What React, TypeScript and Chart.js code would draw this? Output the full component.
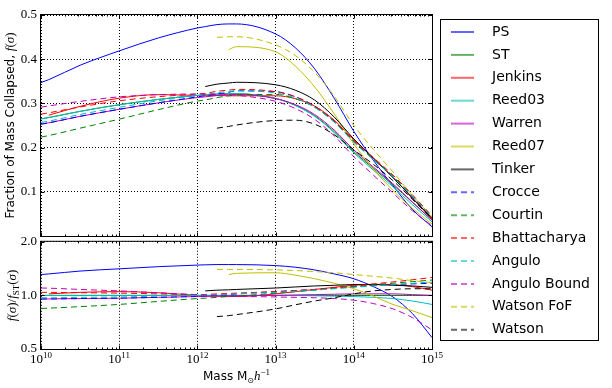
import React, { useEffect, useRef } from 'react';
import { Chart, registerables } from 'chart.js';

Chart.register(...registerables);

const N = null;

// log10 of halo mass (M_sun / h)
const logMass = [10, 10.1, 10.5, 11, 11.5, 12, 12.1, 12.25, 12.4, 12.5, 13, 13.25, 13.5, 13.75, 14, 14.25, 14.5, 14.75, 15];

// Sheth-Tormen f(sigma) (reference for the ratio panel)
const fST = [0.265, 0.268, 0.282, 0.297, 0.309, 0.318, 0.319, 0.321, 0.322, 0.322, 0.311, 0.296, 0.272, 0.236, 0.191, 0.153, 0.116, 0.076, 0.036];

// f(sigma) / f_ST(sigma) for each fit
const ratioPS = [1.31, 1.32, 1.37, 1.41, 1.45, 1.48, 1.485, 1.49, 1.49, 1.49, 1.47, 1.44, 1.39, 1.32, 1.24, 1.12, 0.98, 0.79, 0.58];
const ratioST = [1, 1, 1, 1, 1, 1, 1, 1, 1, 1, 1, 1, 1, 1, 1, 1, 1, 1, 1];
const ratioJenkins = [N, 1.02, 1.04, 1.05, 1.035, 1.0, 0.995, 0.99, 0.985, 0.985, 1.02, 1.05, 1.08, 1.11, 1.14, 1.155, 1.15, 1.12, 1.07];
const ratioReed03 = [1, 1, 1, 1, 1, 1, 1, 1, 1, 1, 1, 0.998, 0.995, 0.99, 0.985, 0.975, 0.96, 0.93, 0.89];
const ratioWarren = [0.955, 0.956, 0.96, 0.965, 0.975, 0.985, 0.987, 0.99, 0.993, 0.995, 1.0, 1.005, 1.01, 1.015, 1.02, 1.02, 1.02, 1.01, 1.0];
const ratioReed07 = [N, N, N, N, N, N, N, N, 1.31, 1.33, 1.34, 1.30, 1.24, 1.17, 1.09, 0.99, 0.89, 0.82, 0.75];
const ratioTinker = [N, N, N, N, N, N, 1.06, 1.07, 1.075, 1.08, 1.10, 1.115, 1.13, 1.14, 1.15, 1.15, 1.14, 1.13, 1.11];
const ratioCrocce = [0.955, 0.955, 0.96, 0.965, 0.975, 0.99, 0.995, 1.0, 1.01, 1.02, 1.05, 1.065, 1.08, 1.10, 1.12, 1.135, 1.15, 1.16, 1.17];
const ratioCourtin = [0.845, 0.848, 0.865, 0.89, 0.925, 0.96, 0.965, 0.975, 0.985, 0.99, 1.03, 1.05, 1.07, 1.095, 1.12, 1.145, 1.17, 1.195, 1.22];
const ratioBhattacharya = [1.04, 1.04, 1.035, 1.03, 1.02, 1.01, 1.012, 1.02, 1.025, 1.03, 1.05, 1.065, 1.08, 1.105, 1.13, 1.16, 1.19, 1.225, 1.26];
const ratioAngulo = [0.97, 0.97, 0.975, 0.98, 0.99, 1.0, 1.003, 1.01, 1.015, 1.02, 1.04, 1.055, 1.07, 1.09, 1.11, 1.13, 1.15, 1.17, 1.19];
const ratioAnguloBound = [1.10, 1.098, 1.08, 1.06, 1.035, 1.01, 1.005, 1.0, 0.995, 0.99, 0.98, 0.975, 0.97, 0.96, 0.94, 0.90, 0.84, 0.75, 0.64];
const ratioWatsonFoF = [N, N, N, N, N, N, N, 1.40, 1.40, 1.40, 1.39, 1.38, 1.36, 1.34, 1.31, 1.28, 1.25, 1.21, 1.18];
const ratioWatson = [N, N, N, N, N, N, N, 0.76, 0.77, 0.78, 0.84, 0.885, 0.93, 0.97, 1.02, 1.06, 1.08, 1.09, 1.09];

const decades = [10, 11, 12, 13, 14, 15];
const topTicks = [0, 0.1, 0.2, 0.3, 0.4, 0.5];
const ratioTicks = [0.5, 1.0, 2.0];

const models = [
  { name: 'PS', ratio: ratioPS, color: '#0000ff', dashed: false },
  { name: 'ST', ratio: ratioST, color: '#008000', dashed: false },
  { name: 'Jenkins', ratio: ratioJenkins, color: '#ff0000', dashed: false },
  { name: 'Reed03', ratio: ratioReed03, color: '#00bfbf', dashed: false },
  { name: 'Warren', ratio: ratioWarren, color: '#bf00bf', dashed: false },
  { name: 'Reed07', ratio: ratioReed07, color: '#bfbf00', dashed: false },
  { name: 'Tinker', ratio: ratioTinker, color: '#000000', dashed: false },
  { name: 'Crocce', ratio: ratioCrocce, color: '#0000ff', dashed: true },
  { name: 'Courtin', ratio: ratioCourtin, color: '#008000', dashed: true },
  { name: 'Bhattacharya', ratio: ratioBhattacharya, color: '#ff0000', dashed: true },
  { name: 'Angulo', ratio: ratioAngulo, color: '#00bfbf', dashed: true },
  { name: 'Angulo Bound', ratio: ratioAnguloBound, color: '#bf00bf', dashed: true },
  { name: 'Watson FoF', ratio: ratioWatsonFoF, color: '#bfbf00', dashed: true },
  { name: 'Watson', ratio: ratioWatson, color: '#000000', dashed: true },
];

const SANS = '"DejaVu Sans", sans-serif';
const SERIF = '"Liberation Serif", "DejaVu Serif", serif';

function points(ratio: (number | null)[], top: boolean) {
  const out: { x: number; y: number }[] = [];
  ratio.forEach((r, i) => {
    if (r === null) return;
    out.push({ x: Math.pow(10, logMass[i]), y: top ? fST[i] * r : r });
  });
  return out;
}

function datasets(top: boolean) {
  return models.map((m, i) => ({
    label: m.name,
    data: points(m.ratio, top),
    borderColor: m.color,
    backgroundColor: m.color,
    borderWidth: 1,
    borderDash: m.dashed ? [6, 4] : [],
    pointRadius: 0,
    fill: false,
    cubicInterpolationMode: 'monotone',
    order: models.length - i,
  }));
}

type Run = { t: string; font: string; dy?: number };
function drawRuns(ctx: CanvasRenderingContext2D, runs: Run[], cx: number, cy: number, rot: number) {
  ctx.save();
  ctx.translate(cx, cy);
  ctx.rotate(rot);
  ctx.textAlign = 'left';
  ctx.textBaseline = 'alphabetic';
  ctx.fillStyle = '#000';
  let total = 0;
  const widths = runs.map((r) => {
    ctx.font = r.font;
    const w = ctx.measureText(r.t).width;
    total += w;
    return w;
  });
  let x = -total / 2;
  runs.forEach((r, i) => {
    ctx.font = r.font;
    ctx.fillText(r.t, x, r.dy || 0);
    x += widths[i];
  });
  ctx.restore();
}

function drawFrame(chart: any, yId: string, yMajor: number[]) {
  const { ctx, chartArea: a } = chart;
  const xs = chart.scales.x;
  const ys = chart.scales[yId];
  ctx.save();
  ctx.setLineDash([]);
  ctx.strokeStyle = '#000';
  ctx.lineWidth = 1;
  const L = a.left - 0.5, R = a.right + 0.5, T = a.top - 0.5, B = a.bottom + 0.5;
  ctx.strokeRect(L, T, R - L, B - T);
  ctx.beginPath();
  decades.forEach((d) => {
    for (let m = 1; m <= 9; m++) {
      if (d === 15 && m > 1) break;
      const v = m * Math.pow(10, d);
      const px = Math.round(xs.getPixelForValue(v)) + 0.5;
      const len = m === 1 ? 4 : 2;
      ctx.moveTo(px, B); ctx.lineTo(px, B - len);
      ctx.moveTo(px, T); ctx.lineTo(px, T + len);
    }
  });
  yMajor.forEach((v) => {
    const py = Math.round(ys.getPixelForValue(v)) + 0.5;
    ctx.moveTo(L, py); ctx.lineTo(L + 4, py);
    ctx.moveTo(R, py); ctx.lineTo(R - 4, py);
  });
  ctx.stroke();
  ctx.restore();
}

const topPlugin = {
  id: 'topDecor',
  afterDraw(chart: any) {
    const ctx = chart.ctx as CanvasRenderingContext2D;
    drawFrame(chart, 'y', topTicks);
    // y-axis title
    drawRuns(ctx, [
      { t: 'Fraction of Mass Collapsed, ', font: `12px ${SANS}` },
      { t: 'f', font: `italic 13px ${SERIF}` },
      { t: '(', font: `13px ${SERIF}` },
      { t: 'σ', font: `italic 13px ${SERIF}` },
      { t: ')', font: `13px ${SERIF}` },
    ], 14, (chart.chartArea.top + chart.chartArea.bottom) / 2, -Math.PI / 2);
    // legend
    ctx.save();
    ctx.fillStyle = '#fff';
    ctx.fillRect(440.5, 19.5, 158, 321);
    ctx.strokeStyle = '#000';
    ctx.lineWidth = 1;
    ctx.setLineDash([]);
    ctx.strokeRect(440.5, 19.5, 158, 321);
    models.forEach((m, i) => {
      const y = 32 + i * 22.9;
      ctx.save();
      ctx.globalAlpha = 0.6;
      ctx.strokeStyle = m.color;
      ctx.lineWidth = 2;
      ctx.setLineDash(m.dashed ? [6, 4] : []);
      ctx.beginPath();
      ctx.moveTo(451, y);
      ctx.lineTo(474, y);
      ctx.stroke();
      ctx.restore();
      ctx.fillStyle = '#000';
      ctx.font = `14px ${SANS}`;
      ctx.textAlign = 'left';
      ctx.textBaseline = 'middle';
      ctx.fillText(m.name, 492, y);
    });
    ctx.restore();
  },
};

const bottomPlugin = {
  id: 'bottomDecor',
  afterDraw(chart: any) {
    const ctx = chart.ctx as CanvasRenderingContext2D;
    drawFrame(chart, 'y', ratioTicks);
    const xs = chart.scales.x;
    const a = chart.chartArea;
    // x tick labels 10^k
    decades.forEach((d) => {
      const px = xs.getPixelForValue(Math.pow(10, d));
      ctx.save();
      ctx.font = `13px ${SERIF}`;
      const wb = ctx.measureText('10').width;
      ctx.font = `9px ${SERIF}`;
      const we = ctx.measureText(String(d)).width;
      const x0 = px - (wb + we) / 2;
      ctx.fillStyle = '#000';
      ctx.textBaseline = 'alphabetic';
      ctx.textAlign = 'left';
      ctx.font = `13px ${SERIF}`;
      ctx.fillText('10', x0, a.bottom + 14);
      ctx.font = `9px ${SERIF}`;
      ctx.fillText(String(d), x0 + wb, a.bottom + 9);
      ctx.restore();
    });
    // x title
    drawRuns(ctx, [
      { t: 'Mass M', font: `12px ${SANS}` },
      { t: '⊙', font: `8px ${SANS}`, dy: 3 },
      { t: 'h', font: `italic 13px ${SERIF}` },
      { t: '−1', font: `9px ${SERIF}`, dy: -5 },
    ], (a.left + a.right) / 2, a.bottom + 31, 0);
    // y title
    drawRuns(ctx, [
      { t: 'f', font: `italic 13px ${SERIF}` },
      { t: '(', font: `13px ${SERIF}` },
      { t: 'σ', font: `italic 13px ${SERIF}` },
      { t: ')/', font: `13px ${SERIF}` },
      { t: 'f', font: `italic 13px ${SERIF}` },
      { t: 'ST', font: `9px ${SERIF}`, dy: 3 },
      { t: '(', font: `13px ${SERIF}` },
      { t: 'σ', font: `italic 13px ${SERIF}` },
      { t: ')', font: `13px ${SERIF}` },
    ], 16, (a.top + a.bottom) / 2, -Math.PI / 2);
  },
};

function xAxis(height: number) {
  return {
    type: 'logarithmic',
    min: 1e10,
    max: 1e15,
    afterBuildTicks: (s: any) => { s.ticks = decades.map((d) => ({ value: Math.pow(10, d) })); },
    afterFit: (s: any) => { s.height = height; },
    ticks: { display: false },
    grid: { color: '#000', lineWidth: 1, drawTicks: false },
    border: { display: false, dash: [1, 2] },
  };
}

export default function App() {
  const topRef = useRef<HTMLCanvasElement>(null);
  const botRef = useRef<HTMLCanvasElement>(null);

  useEffect(() => {
    const c1 = new Chart(topRef.current as HTMLCanvasElement, {
      type: 'line',
      data: { datasets: datasets(true) as any },
      options: {
        responsive: false,
        animation: false,
        devicePixelRatio: 1,
        layout: { padding: { left: 0, right: 180, top: 15, bottom: 152 } },
        plugins: { legend: { display: false }, tooltip: { enabled: false } },
        scales: {
          x: xAxis(0) as any,
          y: {
            type: 'linear',
            min: 0,
            max: 0.5,
            afterBuildTicks: (s: any) => { s.ticks = topTicks.map((v) => ({ value: v })); },
            afterFit: (s: any) => { s.width = 41; },
            ticks: {
              callback: (v: any) => (Number(v) === 0 ? '' : Number(v).toFixed(1)),
              font: { family: '"Liberation Serif", serif', size: 13 },
              color: '#000',
              padding: 4,
            },
            grid: { color: '#000', lineWidth: 1, drawTicks: false },
            border: { display: false, dash: [1, 2] },
          },
        },
      },
      plugins: [topPlugin],
    });
    const c2 = new Chart(botRef.current as HTMLCanvasElement, {
      type: 'line',
      data: { datasets: datasets(false) as any },
      options: {
        responsive: false,
        animation: false,
        devicePixelRatio: 1,
        layout: { padding: { left: 0, right: 180, top: 8, bottom: 0 } },
        plugins: { legend: { display: false }, tooltip: { enabled: false } },
        scales: {
          x: xAxis(39) as any,
          y: {
            type: 'logarithmic',
            min: 0.5,
            max: 2,
            afterBuildTicks: (s: any) => { s.ticks = ratioTicks.map((v) => ({ value: v })); },
            afterFit: (s: any) => { s.width = 41; },
            ticks: {
              callback: (v: any) => Number(v).toFixed(1),
              font: { family: '"Liberation Serif", serif', size: 13 },
              color: '#000',
              padding: 4,
            },
            grid: { color: '#000', lineWidth: 1, drawTicks: false },
            border: { display: false, dash: [1, 2] },
          },
        },
      },
      plugins: [bottomPlugin],
    });
    return () => {
      c1.destroy();
      c2.destroy();
    };
  }, []);

  return (
    <div style={{ position: 'fixed', left: 0, top: 0, width: 612, height: 388, background: '#fff' }}>
      <canvas ref={topRef} width={612} height={388} style={{ position: 'absolute', left: 0, top: 0, width: 612, height: 388 }} />
      <canvas ref={botRef} width={612} height={158} style={{ position: 'absolute', left: 0, top: 230, width: 612, height: 158 }} />
    </div>
  );
}
